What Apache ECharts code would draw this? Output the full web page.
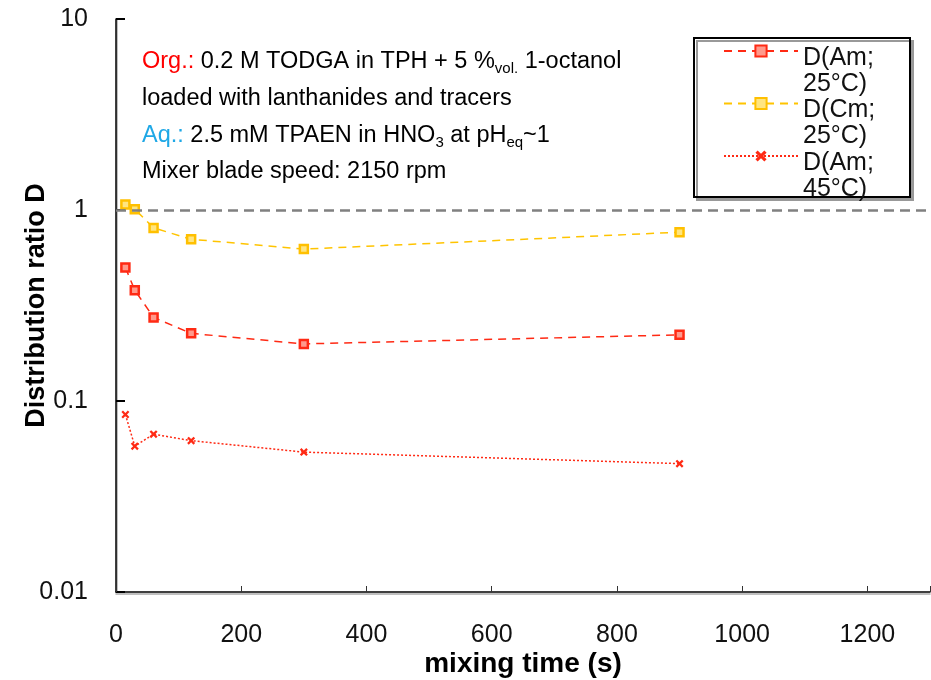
<!DOCTYPE html>
<html>
<head>
<meta charset="utf-8">
<script src="https://cdn.jsdelivr.net/npm/echarts@6/dist/echarts.min.js"></script>
<style>html,body{margin:0;padding:0;background:#fff;}#c{width:931px;height:680px;}</style>
</head>
<body>
<div id="c"></div>
<script>
// ---- data ----
const mixingTime = [15, 30, 60, 120, 300, 900];
const dAm25 = [0.50, 0.38, 0.274, 0.226, 0.199, 0.222];
const dCm25 = [1.07, 1.01, 0.806, 0.703, 0.624, 0.765];
const dAm45 = [0.085, 0.058, 0.067, 0.062, 0.054, 0.047];
const seriesNames = ['D(Am; 25°C)', 'D(Cm; 25°C)', 'D(Am; 45°C)'];
const yTicks = [0.01, 0.1, 1, 10];
const xTicks = [0, 200, 400, 600, 800, 1000, 1200];

const FONT = '"Liberation Sans", Arial, sans-serif';
const pairs = (xs, ys) => xs.map((x, i) => [x, ys[i]]);
const xMark = 'path://M0,2 L2,0 L5,3 L8,0 L10,2 L7,5 L10,8 L8,10 L5,7 L2,10 L0,8 L3,5 Z';
const subStyle = {fontSize: 15, fontFamily: FONT, verticalAlign: 'bottom', lineHeight: 28, fill: '#000'};

const chart = echarts.init(document.getElementById('c'), null, {renderer: 'canvas'});
chart.setOption({
  backgroundColor: '#fff',
  animation: false,
  grid: {left: 116, right: 1, top: 19, bottom: 88, containLabel: false, outerBoundsMode: 'none'},
  xAxis: {
    type: 'value', min: 0, max: 1300, interval: 200,
    name: 'mixing time (s)', nameLocation: 'middle', nameGap: 58, nameMoveOverlap: false,
    nameTextStyle: {fontFamily: FONT, fontSize: 28, fontWeight: 'bold', color: '#000'},
    axisLine: {lineStyle: {color: '#000', width: 1.5, shadowColor: '#aaa', shadowOffsetY: 2}},
    axisTick: {inside: true, length: 6, lineStyle: {color: '#333'}},
    axisLabel: {fontFamily: FONT, fontSize: 25, color: '#111', margin: 31,
      formatter: v => xTicks.includes(v) ? String(v) : ''},
    splitLine: {show: false}
  },
  yAxis: {
    type: 'log', logBase: 10, min: 0.01, max: 10,
    name: 'Distribution ratio D', nameLocation: 'middle', nameGap: 66, nameRotate: 90, nameMoveOverlap: false,
    nameTextStyle: {fontFamily: FONT, fontSize: 27, fontWeight: 'bold', color: '#000'},
    axisLine: {show: true, lineStyle: {color: '#000', width: 1.5, shadowColor: '#aaa', shadowOffsetX: 1}},
    axisTick: {show: true, inside: true, length: 9, lineStyle: {color: '#000', width: 2}},
    axisLabel: {fontFamily: FONT, fontSize: 25, color: '#111', margin: 28,
      formatter: v => { const t = yTicks.find(k => Math.abs(k - v) / k < 1e-6); return t === undefined ? '' : String(t); }},
    splitLine: {show: false},
    minorTick: {show: false}
  },
  legend: {
    orient: 'vertical', left: 723, top: 20, padding: 0,
    itemWidth: 74, itemHeight: 14, itemGap: -24,
    data: seriesNames,
    formatter: name => '{gap| }\n{t|' + name.replace('; ', ';}\n{t|') + '}',
    textStyle: {fontFamily: FONT, fontSize: 25, color: '#111',
      rich: {gap: {lineHeight: 40, fontSize: 10}, t: {fontFamily: FONT, fontSize: 25, lineHeight: 26, color: '#111'}}},
    z: 10
  },
  graphic: [
    {type: 'rect', left: 693, top: 37, z: 5, silent: true,
      shape: {width: 216, height: 159},
      style: {fill: '#fff', stroke: '#000', lineWidth: 2, shadowColor: '#999', shadowOffsetX: 3, shadowOffsetY: 3, shadowBlur: 0}},
    {type: 'text', x: 142, y: 62, z: 6, silent: true,
      style: {text: '{red|Org.:} 0.2 M TODGA in TPH + 5 %{sub|vol.} 1-octanol', font: '23.5px ' + FONT, fill: '#000', verticalAlign: 'middle',
        rich: {red: {fill: '#ff0000', fontSize: 23.5, fontFamily: FONT, lineHeight: 28}, sub: subStyle}}},
    {type: 'text', x: 142, y: 99, z: 6, silent: true,
      style: {text: 'loaded with lanthanides and tracers', font: '23.5px ' + FONT, fill: '#000', verticalAlign: 'middle'}},
    {type: 'text', x: 142, y: 136, z: 6, silent: true,
      style: {text: '{blue|Aq.:} 2.5 mM TPAEN in HNO{sub|3} at pH{sub|eq}~1', font: '23.5px ' + FONT, fill: '#000', verticalAlign: 'middle',
        rich: {blue: {fill: '#1fa8e6', fontSize: 23.5, fontFamily: FONT, lineHeight: 28}, sub: subStyle}}},
    {type: 'text', x: 142, y: 172, z: 6, silent: true,
      style: {text: 'Mixer blade speed: 2150 rpm', font: '23.5px ' + FONT, fill: '#000', verticalAlign: 'middle'}}
  ],
  series: [
    {
      name: seriesNames[0], type: 'line', data: pairs(mixingTime, dAm25),
      symbol: 'rect', symbolSize: 8,
      itemStyle: {color: '#ff9a8c', borderColor: '#ff2a14', borderWidth: 2.5},
      lineStyle: {color: '#ff2a14', width: 1.5, type: [8, 6]},
      markLine: {
        silent: true, symbol: 'none', label: {show: false},
        lineStyle: {color: '#808080', width: 2.5, type: [10, 6]},
        data: [{yAxis: 1}]
      },
      z: 3
    },
    {
      name: seriesNames[1], type: 'line', data: pairs(mixingTime, dCm25),
      symbol: 'rect', symbolSize: 8,
      itemStyle: {color: '#ffe580', borderColor: '#ffc000', borderWidth: 2.5},
      lineStyle: {color: '#ffc400', width: 1.5, type: [8, 6]},
      z: 3
    },
    {
      name: seriesNames[2], type: 'line', data: pairs(mixingTime, dAm45),
      symbol: xMark, symbolSize: 8,
      itemStyle: {color: '#ff2a14'},
      lineStyle: {color: '#ff2a14', width: 1.5, type: [2, 2]},
      z: 3
    }
  ]
});
</script>
</body>
</html>
